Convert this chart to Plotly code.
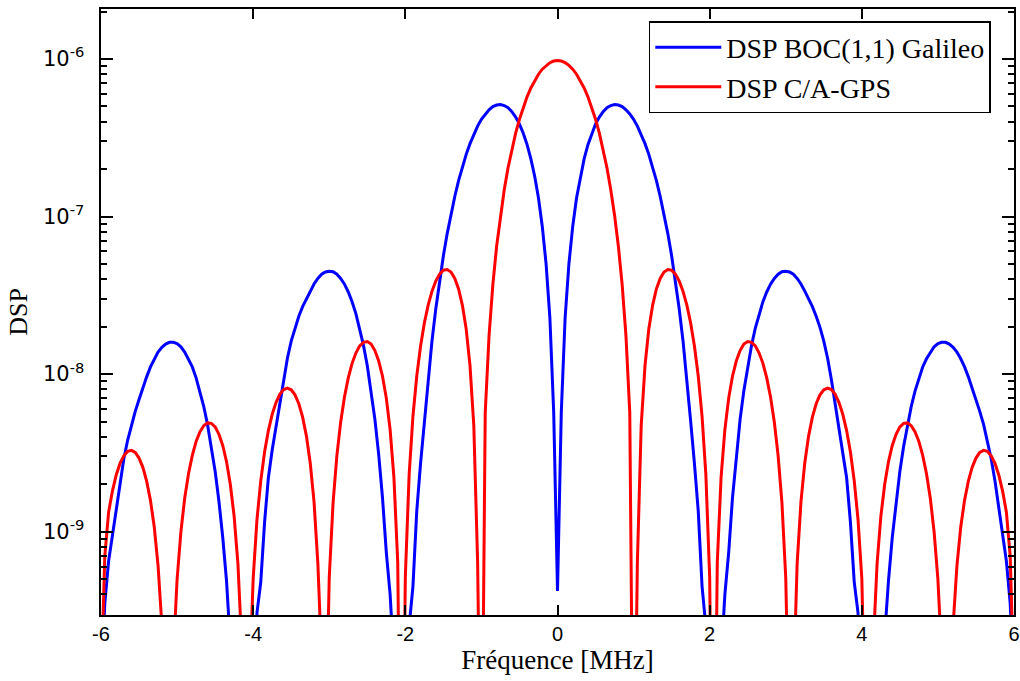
import numpy as np
import plotly.graph_objects as go

# Frequency axis in MHz, 0.05 MHz step from -6 to +6
freq_mhz = np.round(np.linspace(-6.0, 6.0, 241), 2)

# Power spectral density of the Galileo BOC(1,1) signal
# negative frequencies: -6.00 ... -0.05 MHz
psd_boc_neg = [
    1.0e-10, 3.5e-10, 6.5e-10, 9.5e-10, 1.45e-9, 2.1e-9, 2.9e-9, 3.8e-9, 4.8e-9, 5.8e-9,
    6.9e-9, 8.2e-9, 9.6e-9, 1.11e-8, 1.25e-8, 1.38e-8, 1.48e-8, 1.55e-8, 1.59e-8, 1.59e-8,
    1.56e-8, 1.49e-8, 1.38e-8, 1.25e-8, 1.11e-8, 9.46e-9, 7.83e-9, 6.25e-9, 4.79e-9, 3.50e-9,
    2.42e-9, 1.56e-9, 9.21e-10, 4.85e-10, 2.18e-10, 7.63e-11, 1.74e-11, 1.5e-12, 5.0e-16, 1.0e-13,
    1.0e-11, 3.05e-10, 4.8e-10, 1.15e-9, 2.2e-9, 3.3e-9, 4.6e-9, 6.4e-9, 9.2e-9, 1.26e-8,
    1.62e-8, 1.98e-8, 2.33e-8, 2.68e-8, 3.0e-8, 3.36e-8, 3.73e-8, 4.05e-8, 4.30e-8, 4.45e-8,
    4.50e-8, 4.46e-8, 4.30e-8, 4.05e-8, 3.72e-8, 3.32e-8, 2.88e-8, 2.42e-8, 1.96e-8, 1.52e-8,
    1.13e-8, 7.88e-9, 5.16e-9, 3.08e-9, 1.64e-9, 7.38e-10, 4.0e-10, 1.5e-10, 4.4e-12, 1.0e-15,
    2.6e-12, 2.5e-10, 4.5e-10, 1.35e-9, 2.70e-9, 5.03e-9, 9.46e-9, 1.62e-8, 2.59e-8, 3.91e-8,
    5.63e-8, 7.79e-8, 1.04e-7, 1.34e-7, 1.69e-7, 2.07e-7, 2.48e-7, 2.90e-7, 3.33e-7, 3.75e-7,
    4.14e-7, 4.48e-7, 4.76e-7, 4.98e-7, 5.10e-7, 5.13e-7, 5.06e-7, 4.90e-7, 4.63e-7, 4.28e-7,
    3.86e-7, 3.38e-7, 2.86e-7, 2.32e-7, 1.80e-7, 1.31e-7, 8.65e-8, 5.00e-8, 2.27e-8, 5.74e-9,
]
# positive frequencies: 0.00 ... 6.00 MHz
psd_boc_pos = [
    4.2e-10, 5.74e-9, 2.27e-8, 5.00e-8, 8.65e-8, 1.31e-7, 1.80e-7, 2.32e-7, 2.86e-7, 3.38e-7,
    3.86e-7, 4.28e-7, 4.63e-7, 4.90e-7, 5.06e-7, 5.13e-7, 5.10e-7, 4.98e-7, 4.76e-7, 4.48e-7,
    4.14e-7, 3.75e-7, 3.33e-7, 2.90e-7, 2.48e-7, 2.07e-7, 1.69e-7, 1.34e-7, 1.04e-7, 7.79e-8,
    5.63e-8, 3.91e-8, 2.59e-8, 1.62e-8, 9.46e-9, 5.03e-9, 2.70e-9, 1.35e-9, 4.5e-10, 2.5e-10,
    2.6e-12, 1.0e-15, 4.4e-12, 1.5e-10, 4.0e-10, 7.38e-10, 1.64e-9, 3.08e-9, 5.16e-9, 7.88e-9,
    1.13e-8, 1.52e-8, 1.96e-8, 2.42e-8, 2.88e-8, 3.32e-8, 3.72e-8, 4.05e-8, 4.30e-8, 4.46e-8,
    4.50e-8, 4.45e-8, 4.30e-8, 4.05e-8, 3.73e-8, 3.36e-8, 3.0e-8, 2.68e-8, 2.33e-8, 1.98e-8,
    1.62e-8, 1.26e-8, 9.2e-9, 6.4e-9, 4.6e-9, 3.3e-9, 2.2e-9, 1.15e-9, 4.8e-10, 3.05e-10,
    1.0e-11, 1.0e-13, 5.0e-16, 1.5e-12, 1.74e-11, 7.63e-11, 2.18e-10, 4.85e-10, 9.21e-10, 1.56e-9,
    2.42e-9, 3.50e-9, 4.79e-9, 6.25e-9, 7.83e-9, 9.46e-9, 1.11e-8, 1.25e-8, 1.38e-8, 1.49e-8,
    1.56e-8, 1.59e-8, 1.59e-8, 1.55e-8, 1.48e-8, 1.38e-8, 1.25e-8, 1.11e-8, 9.6e-9, 8.2e-9,
    6.9e-9, 5.8e-9, 4.8e-9, 3.8e-9, 2.9e-9, 2.1e-9, 1.45e-9, 9.5e-10, 6.5e-10, 3.5e-10,
    1.0e-10,
]

# Power spectral density of the GPS C/A signal
psd_ca_neg = [
    1.0e-10, 7.0e-10, 1.33e-9, 1.81e-9, 2.29e-9, 2.71e-9, 3.03e-9, 3.23e-9, 3.28e-9, 3.18e-9,
    2.93e-9, 2.56e-9, 2.09e-9, 1.58e-9, 1.07e-9, 6.09e-10, 2.55e-10, 4.47e-11, 8.6e-12, 1.60e-10,
    4.97e-10, 9.97e-10, 1.63e-9, 2.33e-9, 3.05e-9, 3.73e-9, 4.29e-9, 4.70e-9, 4.90e-9, 4.87e-9,
    4.62e-9, 4.15e-9, 3.52e-9, 2.78e-9, 1.99e-9, 1.25e-9, 6.22e-10, 1.88e-10, 3.65e-12, 1.05e-10,
    5.04e-10, 1.19e-9, 2.11e-9, 3.20e-9, 4.38e-9, 5.55e-9, 6.60e-9, 7.43e-9, 7.97e-9, 8.15e-9,
    7.95e-9, 7.38e-9, 6.48e-9, 5.33e-9, 4.04e-9, 2.73e-9, 1.55e-9, 6.32e-10, 9.71e-11, 3.81e-11,
    5.10e-10, 1.52e-9, 3.03e-9, 4.95e-9, 7.15e-9, 9.45e-9, 1.17e-8, 1.36e-8, 1.51e-8, 1.59e-8,
    1.61e-8, 1.55e-8, 1.41e-8, 1.21e-8, 9.69e-9, 7.04e-9, 4.44e-9, 2.21e-9, 6.39e-10, 4.0e-12,
    5.15e-10, 2.30e-9, 5.40e-9, 9.71e-9, 1.50e-8, 2.11e-8, 2.74e-8, 3.35e-8, 3.89e-8, 4.31e-8,
    4.56e-8, 4.61e-8, 4.44e-8, 4.05e-8, 3.47e-8, 2.73e-8, 1.93e-8, 1.13e-8, 4.70e-9, 6.44e-10,
    1.0e-11, 5.68e-9, 1.74e-8, 3.68e-8, 6.48e-8, 1.02e-7, 1.48e-7, 2.04e-7, 2.67e-7, 3.38e-7,
    4.14e-7, 4.94e-7, 5.75e-7, 6.55e-7, 7.30e-7, 8.00e-7, 8.61e-7, 9.10e-7, 9.47e-7, 9.70e-7,
]
psd_ca_pos = [
    9.78e-7, 9.70e-7, 9.47e-7, 9.10e-7, 8.61e-7, 8.00e-7, 7.30e-7, 6.55e-7, 5.75e-7, 4.94e-7,
    4.14e-7, 3.38e-7, 2.67e-7, 2.04e-7, 1.48e-7, 1.02e-7, 6.48e-8, 3.68e-8, 1.74e-8, 5.68e-9,
    1.0e-11, 6.44e-10, 4.70e-9, 1.13e-8, 1.93e-8, 2.73e-8, 3.47e-8, 4.05e-8, 4.44e-8, 4.61e-8,
    4.56e-8, 4.31e-8, 3.89e-8, 3.35e-8, 2.74e-8, 2.11e-8, 1.50e-8, 9.71e-9, 5.40e-9, 2.30e-9,
    5.15e-10, 4.0e-12, 6.39e-10, 2.21e-9, 4.44e-9, 7.04e-9, 9.69e-9, 1.21e-8, 1.41e-8, 1.55e-8,
    1.61e-8, 1.59e-8, 1.51e-8, 1.36e-8, 1.17e-8, 9.45e-9, 7.15e-9, 4.95e-9, 3.03e-9, 1.52e-9,
    5.10e-10, 3.81e-11, 9.71e-11, 6.32e-10, 1.55e-9, 2.73e-9, 4.04e-9, 5.33e-9, 6.48e-9, 7.38e-9,
    7.95e-9, 8.15e-9, 7.97e-9, 7.43e-9, 6.60e-9, 5.55e-9, 4.38e-9, 3.20e-9, 2.11e-9, 1.19e-9,
    5.04e-10, 1.05e-10, 3.65e-12, 1.88e-10, 6.22e-10, 1.25e-9, 1.99e-9, 2.78e-9, 3.52e-9, 4.15e-9,
    4.62e-9, 4.87e-9, 4.90e-9, 4.70e-9, 4.29e-9, 3.73e-9, 3.05e-9, 2.33e-9, 1.63e-9, 9.97e-10,
    4.97e-10, 1.60e-10, 8.6e-12, 4.47e-11, 2.55e-10, 6.09e-10, 1.07e-9, 1.58e-9, 2.09e-9, 2.56e-9,
    2.93e-9, 3.18e-9, 3.28e-9, 3.23e-9, 3.03e-9, 2.71e-9, 2.29e-9, 1.81e-9, 1.33e-9, 7.0e-10,
    1.0e-10,
]

psd_boc = psd_boc_neg + psd_boc_pos
psd_ca = psd_ca_neg + psd_ca_pos

x_ticks = [-6, -4, -2, 0, 2, 4, 6]
x_tick_text = ["-6", "-4", "-2", "0", "2", "4", "6"]
y_ticks = [1e-9, 1e-8, 1e-7, 1e-6]
# trailing en space keeps the labels clear of the axis line
y_tick_text = [f"10<sup>{e}</sup>\u2002" for e in (-9, -8, -7, -6)]
y_minor = [k * 10.0 ** e for e in range(-10, -5) for k in range(2, 10)]
y_range = [-9.529, -5.683]

fig = go.Figure()
fig.add_trace(go.Scatter(
    x=freq_mhz, y=psd_boc, mode="lines", name="DSP BOC(1,1) Galileo",
    line=dict(color="#0000ff", width=3),
))
fig.add_trace(go.Scatter(
    x=freq_mhz, y=psd_ca, mode="lines", name="DSP C/A-GPS",
    line=dict(color="#ff0000", width=3),
))

serif = "Liberation Serif, Times New Roman, serif"

fig.update_layout(
    width=1020, height=681,
    margin=dict(l=101, r=6, t=9, b=66, autoexpand=False),
    paper_bgcolor="white", plot_bgcolor="white",
    showlegend=True,
    legend=dict(
        x=0.600, y=0.98, xanchor="left", yanchor="top",
        bgcolor="white", bordercolor="black", borderwidth=1.5,
        font=dict(family=serif, size=28, color="black"),
        itemwidth=66, tracegroupgap=0,
    ),
)

fig.update_xaxes(
    range=[-6, 6], tickmode="array", tickvals=x_ticks, ticktext=x_tick_text,
    ticks="inside", ticklen=10, tickwidth=1.6, tickcolor="black",
    showline=True, linecolor="black", linewidth=2, mirror="allticks",
    showgrid=False, zeroline=False, layer="above traces",
    tickfont=dict(family="Liberation Sans, Arial, sans-serif", size=20, color="black"),
    title=dict(text="Fréquence [MHz]", font=dict(family=serif, size=27, color="black"), standoff=6),
)

fig.update_yaxes(
    type="log", range=y_range,
    tickmode="array", tickvals=y_ticks, ticktext=y_tick_text,
    ticks="inside", ticklen=12, tickwidth=1.6, tickcolor="black",
    minor=dict(tickmode="array", tickvals=y_minor, ticks="inside", ticklen=6,
               tickwidth=1.6, tickcolor="black", showgrid=False),
    showline=True, linecolor="black", linewidth=2, mirror="allticks",
    showgrid=False, zeroline=False, layer="above traces",
    tickfont=dict(family="DejaVu Sans, sans-serif", size=21, color="black"),
    title=dict(text="DSP", font=dict(family=serif, size=26, color="black"), standoff=8),
)

fig.write_html("out.html")
